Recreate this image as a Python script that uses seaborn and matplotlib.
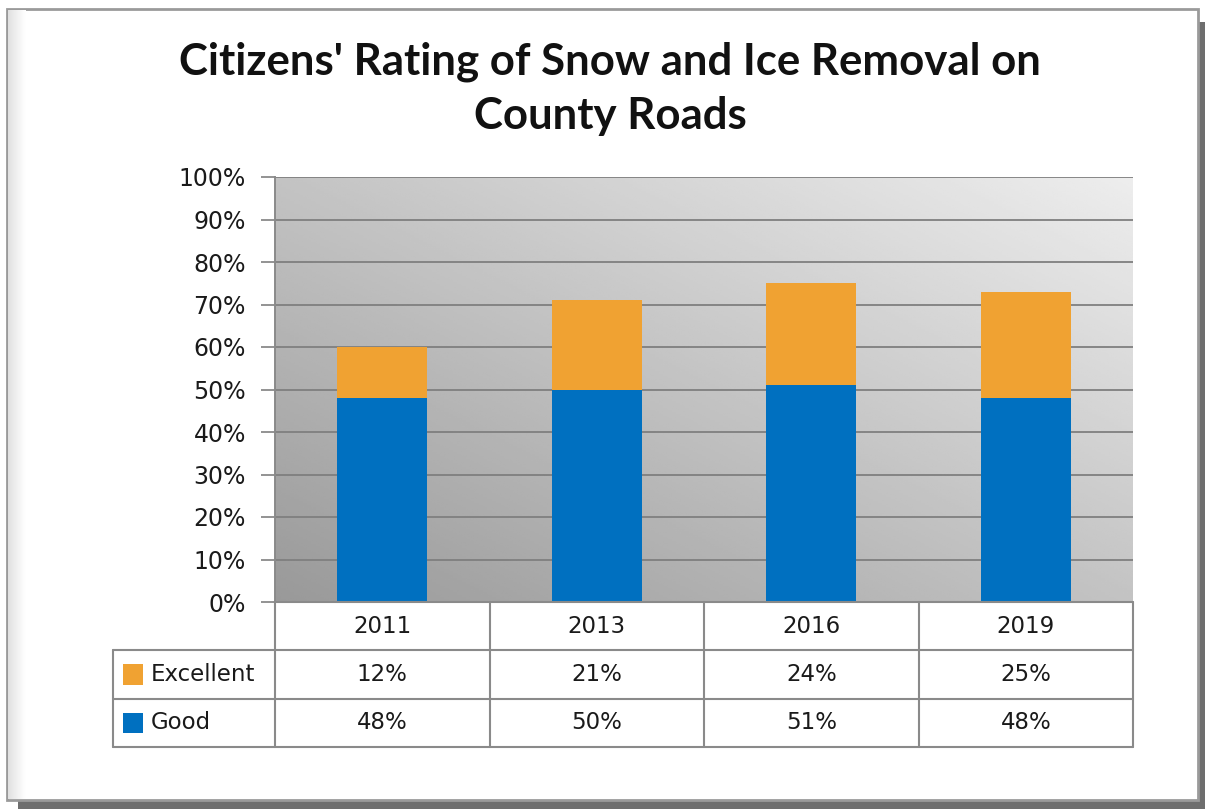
import numpy as np
import pandas as pd
import matplotlib
matplotlib.use("Agg")
import matplotlib.pyplot as plt
import matplotlib.patches as mpatches
import seaborn as sns

# chart data
years = ["2011", "2013", "2016", "2019"]
good = [48, 50, 51, 48]
excellent = [12, 21, 24, 25]
y_ticks = [0, 10, 20, 30, 40, 50, 60, 70, 80, 90, 100]

title = "Citizens' Rating of Snow and Ice Removal on\nCounty Roads"
blue = "#0070C0"
orange = "#F0A232"
line_gray = "#8a8a8a"

sns.set_style("white")
plt.rcParams["font.family"] = ["DejaVu Sans"]

W, H = 1205, 809
fig = plt.figure(figsize=(W / 100, H / 100), dpi=100)
fig.patch.set_facecolor("white")


def px_rect(left, top, right, bottom):
    return [left / W, (H - bottom) / H, (right - left) / W, (bottom - top) / H]


# outer frame with shadow
frame = fig.add_axes([0, 0, 1, 1], zorder=-5)
frame.set_xlim(0, W)
frame.set_ylim(H, 0)
frame.axis("off")
frame.add_patch(mpatches.Rectangle((1198, 22), 7, 787, color="#6e6e6e", lw=0))
frame.add_patch(mpatches.Rectangle((18, 800), 1187, 9, color="#6e6e6e", lw=0))
frame.add_patch(mpatches.Rectangle((7, 9), 1191, 791, facecolor="white",
                                   edgecolor="#9a9a9a", lw=2))
strip = np.linspace(0.88, 1.0, 32).reshape(1, -1)
frame.imshow(strip, extent=[8, 26, 799, 10], cmap="gray", vmin=0, vmax=1,
             aspect="auto", zorder=2)

# plot area gradient background
rect = px_rect(275, 177, 1133, 602)
bg = fig.add_axes(rect, zorder=0)
gx, gy = np.meshgrid(np.linspace(0, 1, 200), np.linspace(0, 1, 200))
grad = 0.60 + 0.33 * (0.5 * gx + 0.5 * gy)
bg.imshow(grad, extent=[0, 1, 0, 1], origin="lower", cmap="gray",
          vmin=0, vmax=1, aspect="auto")
bg.axis("off")

# bars
ax = fig.add_axes(rect, zorder=1)
ax.patch.set_alpha(0)
df = pd.DataFrame({"year": years, "good": good, "excellent": excellent})
df["total"] = df["good"] + df["excellent"]
sns.barplot(data=df, x="year", y="total", color=orange, width=0.42,
            saturation=1, ax=ax, zorder=3)
sns.barplot(data=df, x="year", y="good", color=blue, width=0.42,
            saturation=1, ax=ax, zorder=3)
for p in ax.patches:
    p.set_edgecolor("none")

ax.set_xlim(-0.5, len(years) - 0.5)
ax.set_ylim(0, 100)
ax.set_yticks(y_ticks)
ax.set_yticklabels([f"{t}%" for t in y_ticks])
ax.set_xticks([])
ax.set_xlabel("")
ax.set_ylabel("")
for t in y_ticks[1:]:
    ax.axhline(t, color="#7f7f7f", lw=1.3, zorder=2)
for s in ["top", "right", "bottom"]:
    ax.spines[s].set_visible(False)
ax.spines["left"].set_color(line_gray)
ax.spines["left"].set_linewidth(1.4)
ax.tick_params(axis="y", length=10, width=1.3, color=line_gray, pad=11,
               labelsize=17, labelcolor="#1a1a1a", left=True)

# data table
tab = fig.add_axes(px_rect(275, 602, 1133, 747), zorder=2)
tab.set_xlim(-0.5, len(years) - 0.5)
tab.set_ylim(3, 0)
tab.axis("off")
label_left = -0.5 - (275 - 113) / 214.5
kw = dict(color=line_gray, lw=1.5, clip_on=False)
tab.plot([-0.5, 3.5], [0, 0], **kw)
for yy in [1, 2, 3]:
    tab.plot([label_left, 3.5], [yy, yy], **kw)
for i in range(len(years) + 1):
    tab.plot([i - 0.5, i - 0.5], [0, 3], **kw)
tab.plot([label_left, label_left], [1, 3], **kw)

rows = [("Excellent", excellent, orange), ("Good", good, blue)]
for i, yr in enumerate(years):
    tab.text(i, 0.5, yr, ha="center", va="center", fontsize=16.5, color="#1a1a1a")
for r, (name, vals, col) in enumerate(rows, start=1):
    sq = 20 / 214.5
    tab.add_patch(mpatches.Rectangle((label_left + 10 / 214.5, r + 0.5 - 0.21), sq, 0.42,
                                     color=col, lw=0, clip_on=False))
    tab.text(label_left + 38 / 214.5, r + 0.5, name, ha="left", va="center",
             fontsize=16.5, color="#1a1a1a", clip_on=False)
    for i, v in enumerate(vals):
        tab.text(i, r + 0.5, f"{v}%", ha="center", va="center",
                 fontsize=16.5, color="#1a1a1a")

# title, one line at a time so each baseline sits where it should
for line, base in zip(title.split("\n"), [74, 129]):
    fig.text(610 / W, 1 - base / H, line, ha="center", va="baseline",
             fontsize=31.5, fontweight="bold", color="#111111",
             family=["Lato", "DejaVu Sans"])

fig.savefig("out.png", dpi=100)
